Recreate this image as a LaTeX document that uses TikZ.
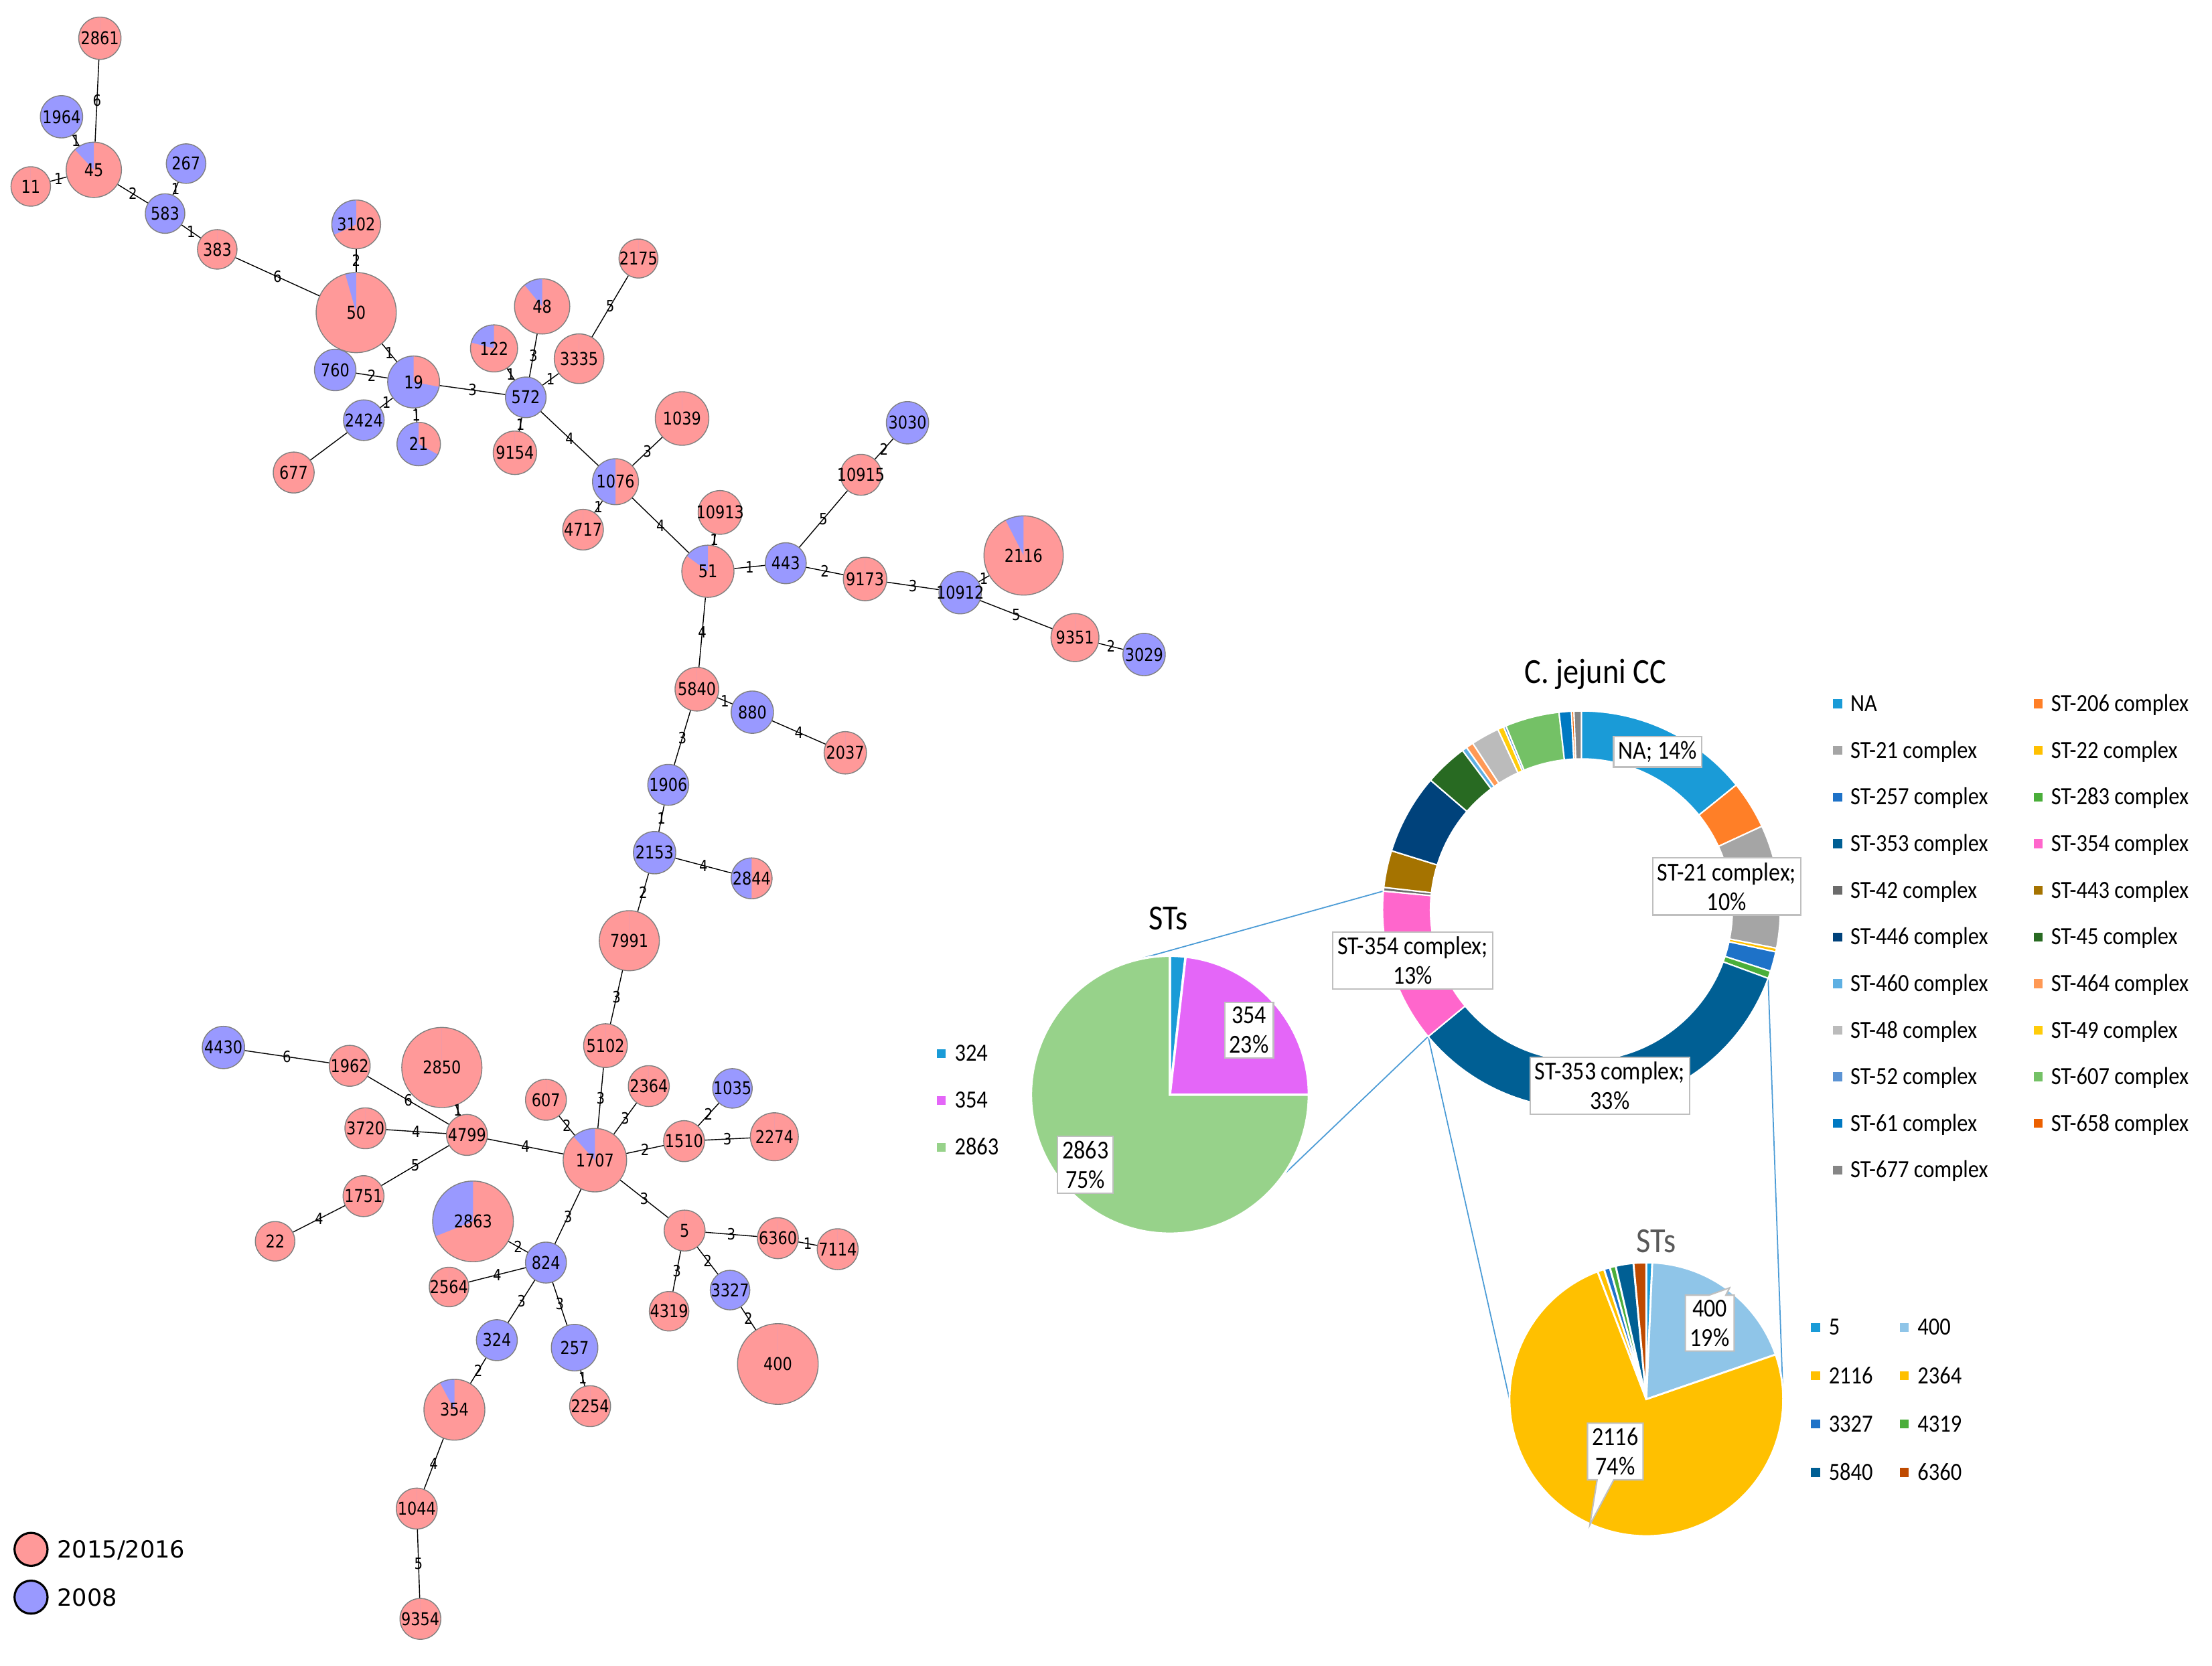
\documentclass[tikz,border=0pt]{standalone}
\usepackage{fontspec}
\setmainfont{DejaVu Sans}
\newfontfamily\netfont[FakeStretch=0.85]{DejaVu Sans}
\newfontfamily\xlfont[FakeStretch=0.88]{Carlito}
\usetikzlibrary{calc,shapes.callouts}

\definecolor{yrnew}{HTML}{FF9999}
\definecolor{yrold}{HTML}{9999FF}
\definecolor{cNA}{HTML}{1A9BD7}
\definecolor{c206}{HTML}{FF7F27}
\definecolor{c21}{HTML}{A5A5A5}
\definecolor{c22}{HTML}{FFC000}
\definecolor{c257}{HTML}{1E72C8}
\definecolor{c283}{HTML}{4AAE3A}
\definecolor{c353}{HTML}{005F94}
\definecolor{c354}{HTML}{FF66CC}
\definecolor{c42}{HTML}{6B6B6B}
\definecolor{c443}{HTML}{A57300}
\definecolor{c446}{HTML}{00427B}
\definecolor{c45}{HTML}{286A22}
\definecolor{c460}{HTML}{5EB0E3}
\definecolor{c464}{HTML}{FF9955}
\definecolor{c48}{HTML}{BBBBBB}
\definecolor{c49}{HTML}{FFCC0A}
\definecolor{c52}{HTML}{5B93D4}
\definecolor{c607}{HTML}{74C166}
\definecolor{c61}{HTML}{0079C2}
\definecolor{c658}{HTML}{EC6000}
\definecolor{c677}{HTML}{868686}
\definecolor{p354}{HTML}{E466F8}
\definecolor{p2863}{HTML}{97D28A}
\definecolor{p400}{HTML}{8FC5E8}
\definecolor{p6360}{HTML}{BF4A00}
\definecolor{boxline}{HTML}{BFBFBF}
\definecolor{linkblue}{HTML}{4A9BD6}
\definecolor{ttlgray}{HTML}{595959}

\newcommand{\pxu}{0.21066mm}
\newcommand{\rout}{29.70mm}
\newcommand{\rin}{22.54mm}
\newcommand{\rleft}{20.75mm}
\newcommand{\rlow}{20.43mm}

\tikzset{
  stnode/.style={circle,draw=gray,line width=0.4pt,inner sep=0pt},
  stlab/.style={font=\netfont\fontsize{7.5}{8}\selectfont,inner sep=0pt},
  link/.style={line width=0.4pt},
  wt/.style={font=\netfont\fontsize{6.6}{7}\selectfont,inner sep=0.5pt},
  yrkey/.style={circle,draw=black,line width=0.9pt,inner sep=0pt,minimum size=4.93mm},
  yrtxt/.style={anchor=west,inner sep=0pt,font=\fontsize{10}{12}\selectfont,text height=7.3pt,text depth=0pt},
  legsq/.style={rectangle,inner sep=0pt,minimum size=3.8pt},
  legtxt/.style={anchor=west,inner sep=0pt,font=\xlfont\fontsize{10.5}{12}\selectfont,text height=6.6pt,text depth=0pt},
  dlab/.style={draw=boxline,fill=white,line width=0.6pt,align=center,inner sep=2pt,font=\xlfont\fontsize{11}{12.5}\selectfont},
  cline/.style={linkblue,line width=0.5pt},
  ttl/.style={font=\xlfont\fontsize{15}{18}\selectfont}
}

% pie node of the tree: name, x, y, radius, share of 2008
\newcommand{\stpie}[5]{%
  \fill[yrnew] (#2,#3) circle[radius=#4*\pxu];
  \fill[yrold] (#2,#3) -- ++(90:#4*\pxu) arc[start angle=90,delta angle=360*#5,radius=#4*\pxu] -- cycle;
  \node[stnode,minimum size=2*#4*\pxu,label={[stlab]center:#1}] (s#1) at (#2,#3) {};
}

\begin{document}
\begin{tikzpicture}[x=0.21066mm,y=-0.21066mm]
\path[use as bounding box,fill=white] (0,0) rectangle (1568,1181);

% charts
\coordinate (dc) at (1121,645);
\coordinate (lpc) at (829.3,776.1);
\coordinate (bpc) at (1167,992);
\coordinate (d354a) at ($(dc)+(90-3.6*76.5:\rout)$);
\coordinate (d354b) at ($(dc)+(90-3.6*64.0:\rout)$);
\coordinate (d353a) at ($(dc)+(90-3.6*30.6:\rout)$);
\coordinate (lpa) at ($(lpc)+(105.6:\rleft)$);
\coordinate (lpb) at ($(lpc)+(-57.2:\rleft)$);
\coordinate (bpa) at ($(bpc)+(180:\rlow)$);
\coordinate (bpb) at ($(bpc)+(0:\rlow)$);
\draw[cline] (d354a) -- (lpa);
\draw[cline] (d354b) -- (lpb);
\draw[cline] (d354b) -- (bpa);
\draw[cline] (d353a) -- (bpb);

\def\cum{0}
\foreach \p/\col in {14.2/cNA,3.9/c206,10.0/c21,0.3/c22,1.6/c257,0.6/c283,33.4/c353,12.5/c354,0.3/c42,3.0/c443,6.5/c446,3.5/c45,0.4/c460,0.6/c464,2.3/c48,0.5/c49,0.2/c52,4.4/c607,1.0/c61,0.2/c658,0.6/c677}{
  \pgfmathsetmacro\angA{90-3.6*\cum}
  \pgfmathsetmacro\angB{90-3.6*(\cum+\p)}
  \fill[\col,draw=white,line width=0.6pt] ($(dc)+(\angA:\rout)$) arc[start angle=\angA,end angle=\angB,radius=\rout]
    -- ($(dc)+(\angB:\rin)$) arc[start angle=\angB,end angle=\angA,radius=\rin] -- cycle;
  \pgfmathsetmacro\cumnew{\cum+\p}
  \global\let\cum\cumnew
}

\def\cum{0}
\foreach \p/\col in {1.8/cNA,23.2/p354,75/p2863}{
  \pgfmathsetmacro\angA{90-3.6*\cum}
  \pgfmathsetmacro\angB{90-3.6*(\cum+\p)}
  \fill[\col,draw=white,line width=1pt] (lpc) -- ($(lpc)+(\angA:\rleft)$) arc[start angle=\angA,end angle=\angB,radius=\rleft] -- cycle;
  \pgfmathsetmacro\cumnew{\cum+\p}
  \global\let\cum\cumnew
}

\def\cum{0}
\foreach \p/\col in {0.7/cNA,19.0/p400,74.5/c22,0.8/c22,0.7/c257,0.7/c283,2.1/c353,1.5/p6360}{
  \pgfmathsetmacro\angA{90-3.6*\cum}
  \pgfmathsetmacro\angB{90-3.6*(\cum+\p)}
  \fill[\col,draw=white,line width=0.8pt] (bpc) -- ($(bpc)+(\angA:\rlow)$) arc[start angle=\angA,end angle=\angB,radius=\rlow] -- cycle;
  \pgfmathsetmacro\cumnew{\cum+\p}
  \global\let\cum\cumnew
}

\node[ttl] (cctitle) at (1131,478) {C. jejuni CC};
\node[ttl] (lptitle) at (828,651) {STs};
\node[ttl,text=ttlgray] (bptitle) at (1174,880) {STs};

\node[dlab] (lNA) at (1175,533) {NA; 14\%};
\node[dlab] (l21) at (1224,628.5) {ST-21 complex;\\10\%};
\node[dlab] (l354) at (1001.4,681) {ST-354 complex;\\13\%};
\node[dlab] (l353) at (1141.2,769.6) {ST-353 complex;\\33\%};
\node[dlab] (s354p) at (885.4,730.3) {354\\23\%};
\node[dlab] (s2863p) at (769.4,825.8) {2863\\75\%};
\node[dlab,rectangle callout,callout absolute pointer={(1226,913)}] (s400p) at (1212,938) {400\\19\%};
\node[dlab,rectangle callout,callout absolute pointer={(1127,1081)}] (s2116p) at (1145,1029) {2116\\74\%};

\foreach \col/\txt [count=\i from 0] in {cNA/NA,c206/ST-206 complex,c21/ST-21 complex,c22/ST-22 complex,c257/ST-257 complex,c283/ST-283 complex,c353/ST-353 complex,c354/ST-354 complex,c42/ST-42 complex,c443/ST-443 complex,c446/ST-446 complex,c45/ST-45 complex,c460/ST-460 complex,c464/ST-464 complex,c48/ST-48 complex,c49/ST-49 complex,c52/ST-52 complex,c607/ST-607 complex,c61/ST-61 complex,c658/ST-658 complex,c677/ST-677 complex}{
  \pgfmathsetmacro\lx{1302.6+142.2*mod(\i,2)}
  \pgfmathsetmacro\ly{499+33.05*floor(\i/2)}
  \node[legsq,fill=\col] (cm\i) at (\lx,\ly) {};
  \node[legtxt] (ct\i) at (\lx+8.8,\ly) {\txt};
}
\foreach \col/\txt [count=\i from 0] in {cNA/324,p354/354,p2863/2863}{
  \pgfmathsetmacro\ly{746.9+33.2*\i}
  \node[legsq,fill=\col] (lm\i) at (667.3,\ly) {};
  \node[legtxt] (lt\i) at (676.4,\ly) {\txt};
}
\foreach \col/\txt [count=\i from 0] in {cNA/5,p400/400,c22/2116,c22/2364,c257/3327,c283/4319,c353/5840,p6360/6360}{
  \pgfmathsetmacro\lx{1287+63*mod(\i,2)}
  \pgfmathsetmacro\ly{941+34.3*floor(\i/2)}
  \node[legsq,fill=\col] (bm\i) at (\lx,\ly) {};
  \node[legtxt] (bt\i) at (\lx+9,\ly) {\txt};
}

% minimum spanning tree
\stpie{2861}{70.8}{27.1}{15}{0}
\stpie{1964}{43.6}{82.8}{15}{1}
\stpie{45}{66.5}{120.4}{19.6}{0.12}
\stpie{11}{21.8}{132.2}{14}{0}
\stpie{267}{131.9}{116}{14}{1}
\stpie{583}{117}{151.4}{14}{1}
\stpie{383}{154}{176.8}{14}{0}
\stpie{3102}{252.5}{159.1}{17.3}{0.32}
\stpie{50}{252.5}{221.6}{28.4}{0.044}
\stpie{48}{384.3}{217.2}{19.6}{0.11}
\stpie{2175}{452.6}{183.3}{13.8}{0}
\stpie{122}{350.2}{247}{16.7}{0.21}
\stpie{3335}{410.5}{254.3}{17.6}{0}
\stpie{760}{237.6}{262.3}{14.7}{1}
\stpie{19}{293.2}{270.8}{18.4}{0.72}
\stpie{572}{372.7}{281.7}{14.4}{1}
\stpie{2424}{257.9}{297.9}{14.4}{1}
\stpie{21}{296.8}{314.8}{15.4}{0.67}
\stpie{677}{208.2}{335}{14.5}{0}
\stpie{9154}{365}{321}{15.4}{0}
\stpie{1039}{483.5}{296.7}{19}{0}
\stpie{1076}{436.3}{341.5}{16.3}{0.5}
\stpie{10913}{510.4}{363.3}{15.5}{0}
\stpie{4717}{413.3}{375.5}{14.4}{0}
\stpie{51}{501.8}{405}{18.5}{0.15}
\stpie{443}{557}{399.3}{14.5}{1}
\stpie{9173}{613.2}{410.5}{15.4}{0}
\stpie{10912}{680.6}{420.2}{15}{1}
\stpie{2116}{725.6}{393.8}{28.1}{0.075}
\stpie{3030}{643.3}{299.7}{15}{1}
\stpie{10915}{610.3}{336.6}{14.5}{0}
\stpie{9351}{762}{452}{17}{0}
\stpie{3029}{811}{464}{15}{1}
\stpie{5840}{494}{488.6}{15.5}{0}
\stpie{880}{533.3}{504.9}{15}{1}
\stpie{2037}{599.2}{533.7}{15}{0}
\stpie{1906}{473.7}{556.4}{14.5}{1}
\stpie{2153}{464}{604.5}{15}{1}
\stpie{2844}{532.8}{622.7}{14.5}{0.5}
\stpie{7991}{446.1}{666.9}{21.3}{0}
\stpie{5102}{429.2}{741.3}{15.5}{0}
\stpie{4430}{158.4}{742.6}{15}{1}
\stpie{1962}{247.9}{755.6}{14.5}{0}
\stpie{2850}{313.2}{756.8}{28.4}{0}
\stpie{607}{387}{779.7}{14.5}{0}
\stpie{2364}{459.9}{770}{14.5}{0}
\stpie{1035}{519.2}{771.6}{14}{1}
\stpie{3720}{259}{799.9}{14.5}{0}
\stpie{4799}{331}{804.6}{14.5}{0}
\stpie{1707}{421.7}{822.5}{22.5}{0.117}
\stpie{1510}{484.9}{809}{14.5}{0}
\stpie{2274}{548.9}{805.9}{17}{0}
\stpie{1751}{257.7}{848}{14.5}{0}
\stpie{2863}{335.3}{865.9}{28.6}{0.31}
\stpie{22}{195}{880}{14}{0}
\stpie{5}{485.3}{872.4}{14.5}{0}
\stpie{6360}{551.4}{877.8}{14.5}{0}
\stpie{7114}{593.8}{885.6}{14.5}{0}
\stpie{824}{387}{895.1}{14.5}{1}
\stpie{2564}{318.3}{912.4}{14}{0}
\stpie{3327}{517.5}{914.6}{14}{1}
\stpie{4319}{474.3}{929.6}{14}{0}
\stpie{324}{352.2}{950.1}{14.5}{1}
\stpie{257}{407.3}{955.4}{16.5}{1}
\stpie{400}{551.4}{967}{28.6}{0}
\stpie{354}{322.1}{999.4}{21.6}{0.078}
\stpie{2254}{418.3}{996.9}{14.5}{0}
\stpie{1044}{295.4}{1069.5}{14.5}{0}
\stpie{9354}{298}{1147.7}{14.5}{0}

\foreach \na/\nb/\nw in {2861/45/6,1964/45/1,11/45/1,45/583/2,267/583/1,583/383/1,383/50/6,3102/50/2,50/19/1,760/19/2,19/2424/1,19/21/1,19/572/3,122/572/1,48/572/3,3335/572/1,2175/3335/5,572/9154/1,572/1076/4,1076/1039/3,1076/4717/1,1076/51/4,10913/51/1,51/443/1,443/10915/5,10915/3030/2,443/9173/2,9173/10912/3,10912/2116/1,10912/9351/5,9351/3029/2,51/5840/4,5840/880/1,880/2037/4,5840/1906/3,1906/2153/1,2153/2844/4,2153/7991/2,7991/5102/3,5102/1707/3,4430/1962/6,1962/4799/6,2850/4799/1,3720/4799/4,4799/1707/4,4799/1751/5,1751/22/4,607/1707/2,2364/1707/3,1707/1510/2,1035/1510/2,1510/2274/3,1707/5/3,5/6360/3,6360/7114/1,5/4319/3,5/3327/2,3327/400/2,1707/824/3,2863/824/2,824/2564/4,824/324/3,824/257/3,257/2254/1,324/354/2,354/1044/4,1044/9354/5}
  \draw[link] (s\na) -- node[wt] {\nw} (s\nb);
\draw[link] (s2424) -- (s677);

\node[yrkey,fill=yrnew] (key1) at (22,1098.4) {};
\node[yrtxt] (key1t) at (40.3,1098.4) {2015/2016};
\node[yrkey,fill=yrold] (key2) at (22,1132.3) {};
\node[yrtxt] (key2t) at (40.3,1132.3) {2008};
\end{tikzpicture}
\end{document}
